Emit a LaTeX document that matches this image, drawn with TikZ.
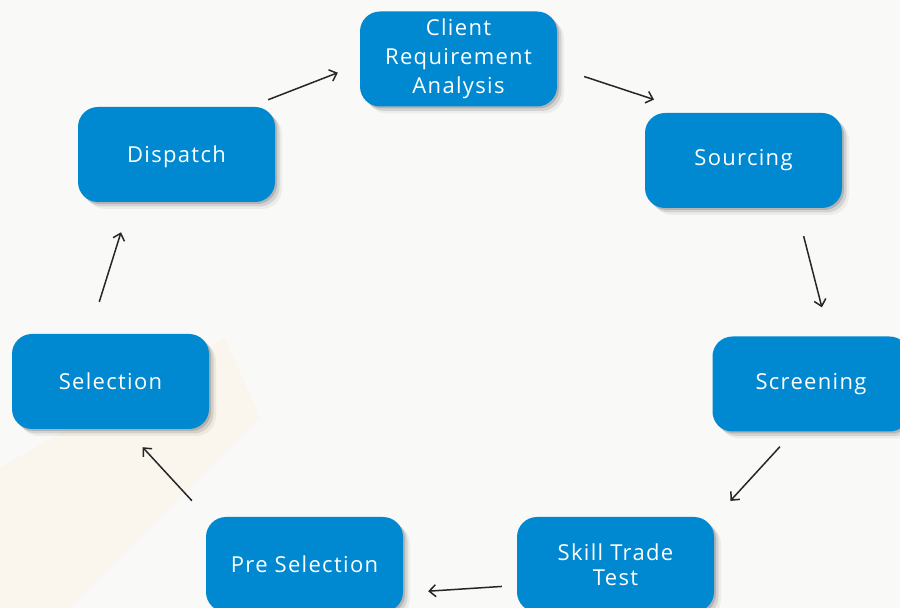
\documentclass[tikz,border=0pt]{standalone}
\usepackage{fontspec}
\setmainfont[LetterSpace=6]{Open Sans}
\usetikzlibrary{arrows.meta,shadows}

\definecolor{stageblue}{RGB}{0,137,208}
\definecolor{paper}{RGB}{249,249,248}
\definecolor{band}{RGB}{250,245,237}

\tikzset{
  stage/.style={rectangle, rounded corners=20pt, fill=stageblue, text=white,
    minimum width=197pt, minimum height=95pt, align=center,
    font=\fontsize{22}{25}\selectfont,
    drop shadow={shadow xshift=7pt, shadow yshift=-7pt, fill=black, opacity=0.05},
    drop shadow={shadow xshift=4.5pt, shadow yshift=-4.5pt, fill=black, opacity=0.1},
    drop shadow={shadow xshift=2pt, shadow yshift=-2pt, fill=black, opacity=0.15}},
  flow/.style={line width=1.5pt, draw=black!85, -{Straight Barb[length=6.5pt,width=12pt]}}
}

\begin{document}
\begin{tikzpicture}[x=1pt,y=1pt]
  \useasboundingbox (0,0) rectangle (900,608);
  \fill[paper] (0,0) rectangle (900,608);
  \fill[band] (0,140) -- (0,0) -- (70,0) -- (260,190) -- (225,270) -- cycle;

  % the seven stages
  \node[stage, font=\fontsize{22}{29}\selectfont] (client) at (458.5,549) {Client\\Requirement\\Analysis};
  \node[stage] (sourcing)  at (743.5,447.5) {Sourcing};
  \node[stage] (screening) at (811,224)     {Screening};
  \node[stage] (skill)     at (615.5,43.5)  {Skill Trade\\Test};
  \node[stage] (pre)       at (304.5,43.5)  {Pre Selection};
  \node[stage] (selection) at (110.5,226.5) {Selection};
  \node[stage, text depth=0pt] (dispatch) at (176.5,453.5) {Dispatch};

  % arrows round the cycle
  \foreach \from/\a/\to/\b/\s/\e in {
      dispatch/33/client/183/19.5pt/23.6pt,
      client/355/sourcing/136/28.4pt/42.2pt,
      sourcing/318/screening/69/28.9pt/29.9pt,
      screening/250/skill/25/20.3pt/23.8pt,
      skill/192/pre/344/15pt/25pt,
      pre/154/selection/288/21.8pt/24.5pt,
      selection/114/dispatch/226/33.5pt/31.5pt} {
    \draw[flow, shorten <=\s, shorten >=\e] (\from.\a) -- (\to.\b);
  }
\end{tikzpicture}
\end{document}
